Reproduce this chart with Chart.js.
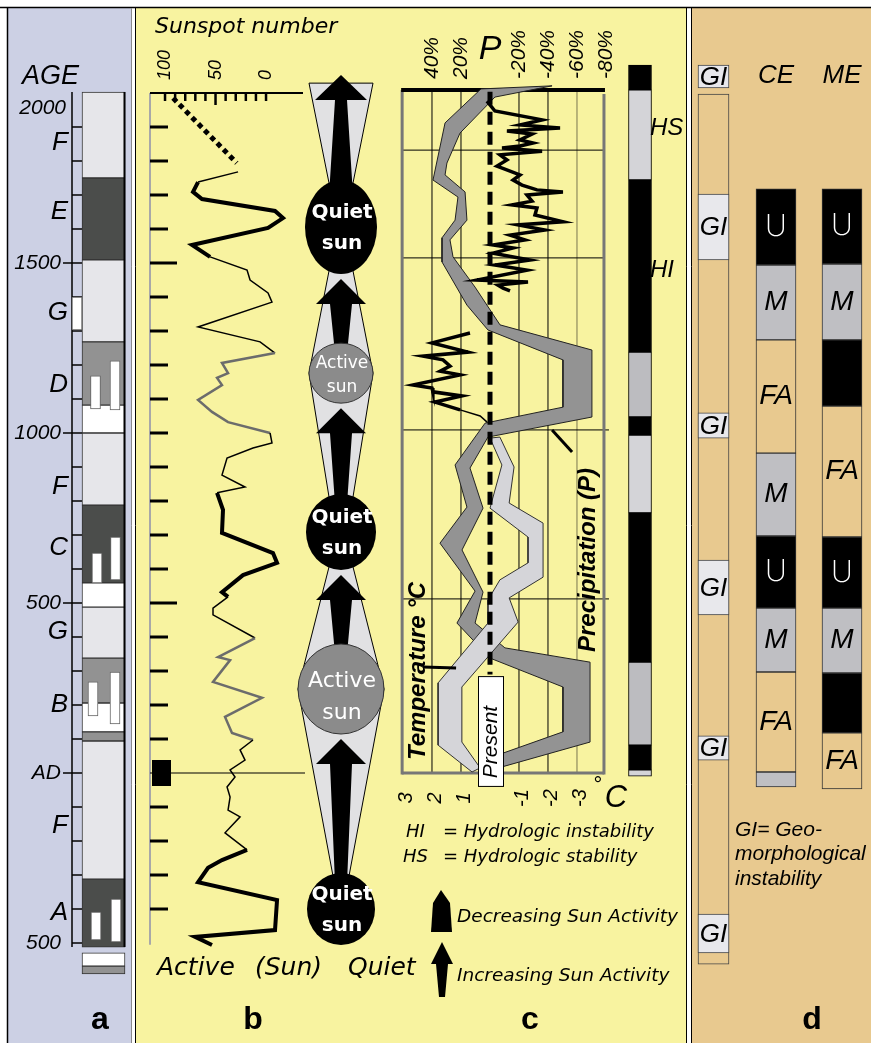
<!DOCTYPE html>
<html>
<head>
<meta charset="utf-8">
<title>Sun activity, climate and geomorphology</title>
<script src="https://cdn.jsdelivr.net/npm/chart.js@4/dist/chart.umd.min.js"></script>
<style>
  html, body { margin: 0; padding: 0; background: #fff; }
  canvas { display: block; }
</style>
</head>
<body>
<canvas id="chart" width="871" height="1043"></canvas>
<script>
// all ages are years AD (negative = BC)

// panel a: age axis and units
const ageLabels = ['2000', '1500', '1000', '500', 'AD', '500'];
const ageLabelYears = [1956, 1500, 1000, 500, 0, -500];
const unitLetters = ['F', 'E', 'G', 'D', 'F', 'C', 'G', 'B', 'F', 'A'];
const unitLetterYears = [1853, 1650, 1353, 1141, 841, 662, 415, 200, -156, -412];
const colATop    = [2003, 1750, 1509, 1268, 1082, 1000, 788, 559, 488, 338, 206, 121, 94, -312, -529, -568];
const colABottom = [1750, 1509, 1268, 1082, 1000, 788, 559, 488, 338, 206, 121, 94, -312, -512, -568, -591];
const colAKind   = ['light', 'dark', 'light', 'mid', 'white', 'light', 'dark', 'white', 'light', 'mid', 'white', 'mid', 'light', 'dark', 'white', 'mid'];
const colAMarkTop    = [1400, 1168, 1212, 647, 694, 268, 297, -409, -371];
const colAMarkBottom = [1303, 1071, 1068, 559, 568, 168, 144, -491, -497];

// panel b: sunspot number
const sunYears = [1768, 1738, 1709, 1688, 1653, 1632, 1603, 1553, 1518, 1479,
  1450, 1412, 1385, 1312, 1268, 1235, 1206, 1176, 1162, 1141,
  1097, 1062, 1032, 1000, 971, 956, 926, 876, 841, 824,
  774, 706, 647, 618, 582, 532, 518, 485, 465, 397,
  341, 332, 268, 221, 165, 118, 97, 68, 38, 9,
  -12, -41, -71, -109, -129, -176, -226, -256, -279, -321,
  -374, -462, -482, -506];
const sunValues = [27.7, 67.3, 72.3, 63.4, -8.9, -16.8, -2, 73.3, 55.4, 18.8,
  15.8, -2, -5.9, 67.3, 5.9, -8.9, 43.6, 37.6, 48.5, 43.6,
  67.3, 53.5, 37.6, -4, -5.9, 12.9, 38.6, 43.6, 20.8, 48.5,
  42.6, 43.6, -6.9, -10.9, 22.8, 43.6, 37.6, 52.5, 52.5, 10.9,
  47.5, 35.6, 52.5, 4, 40.6, 33.7, 12.9, 25.7, 20.8, 35.6,
  30.7, 38.6, 35.6, 37.6, 25.7, 40.6, 18.8, 43.6, 57.4, 67.3,
  -10.9, -8.9, 70.3, 53.5];
const sunTrendYears = [1985, 1794];
const sunTrendValues = [92, 29];
const sunTicks = [100, 50, 0];
const sunPhaseYears = [1606, 1176, 709, 247, -400];
const sunPhaseKinds = ['Quiet', 'Active', 'Quiet', 'Active', 'Quiet'];

// panel c: precipitation band (%), edges west / east
const precipWestYears = [2012, 1912, 1744, 1694, 1626, 1574, 1503, 1376, 1303, 1215, 1076, 1029, 906, 782, 676, 535, 441, 338, 253, 121, 47, 3];
const precipWest      = [6.2, 31.0, 39.3, 22.1, 24.1, 33.1, 33.1, 15.9, 1.4, -50.3, -50.3, 3.4, 24.1, 15.9, 34.5, 10.3, 22.8, 0, -50.3, -50.3, -1.4, 5.5];
const precipEastYears = [2021, 1988, 1882, 1794, 1759, 1709, 1626, 1568, 1518, 1429, 1318, 1244, 1047, 988, 897, 779, 656, 532, 441, 368, 326, 91, 18, 3];
const precipEast      = [-42.8, -3.4, 20.7, 29.7, 31.0, 17.2, 15.9, 27.6, 25.5, 10.3, -6.9, -70.3, -70.3, 1.4, 13.8, 4.8, 19.3, 4.8, 10.3, -10.3, -69.0, -69.0, -8.3, 0];
// temperature band (°C)
const tempWestYears = [985, 906, 779, 694, 618, 568, 509, 441, 265, 82, 3];
const tempWest      = [0, -0.41, 0, -1.31, -1.31, -0.34, 0.07, 0.07, 1.79, 1.79, 0.62];
const tempEastYears = [988, 900, 794, 735, 576, 515, 444, 253, 91, 15];
const tempEast      = [-0.34, -0.83, -0.66, -1.83, -1.83, -0.66, -0.97, 0.97, 0.97, 0.34];
// high resolution records
const precipRecYears = [1976, 1947, 1921, 1906, 1897, 1888, 1879, 1862, 1853, 1844,
  1838, 1829, 1818, 1803, 1785, 1759, 1744, 1729, 1715, 1709,
  1700, 1682, 1671, 1662, 1641, 1621, 1612, 1597, 1582, 1568,
  1553, 1544, 1529, 1509, 1494, 1479, 1450, 1444, 1435, 1426, 1418];
const precipRec = [2.1, -3.4, -35.9, -20.7, -48.3, -11.7, -29.0, -20.7, -29.7, -20.7,
  -8.3, -35.9, -6.9, -11.7, -4.8, -20.7, -15.9, -22.1, -32.4, -50.3,
  -25.5, -29.0, -15.2, -32.4, -31.0, -50.3, -19.3, -37.9, -13.8, -24.1,
  -2.1, -15.9, -2.1, -27.6, -3.4, -25.5, 9.0, -26.2, -5.5, -9.0, -13.8];
const tempRecYears = [1294, 1265, 1238, 1226, 1215, 1197, 1182, 1171, 1141, 1132, 1121, 1109, 1091, 1068, 1050, 1032];
const tempRec      = [0.69, 2.0, 0.76, 2.31, 1.62, 1.38, 1.72, 1.03, 2.66, 2.0, 1.97, 0.97, 1.90, 1.03, 0.34, 0.10];
const precipTicks = [40, 20, -20, -40, -60, -80];
const precipGrid = [40, 20, -20, -40, -60];
const tempTicks = [3, 2, 1, -1, -2, -3];
const gridYears = [1832, 1515, 1009, 512];
const presentYears = [2004, 290];
// hydrologic column
const hydroTop    = [2082, 2009, 1744, 1238, 1047, 994, 765, 326, 82, 9];
const hydroBottom = [2009, 1744, 1238, 1047, 994, 765, 326, 82, 9, -9];
const hydroKind   = ['HI', 'HS', 'HI', 'HS2', 'HI', 'HS', 'HI', 'HS2', 'HI', 'HS'];
const hydroLabels = ['HS', 'HI'];
const hydroLabelYears = [1897, 1479];

// panel d: geomorphological instability and sections CE / ME
const giColumn = [1997, -562];
const giTop    = [2082, 1703, 1059, 626, 109, -415];
const giBottom = [2015, 1509, 985, 465, 38, -529];
const ceTop    = [1718, 1494, 1274, 941, 697, 485, 297, 3];
const ceBottom = [1494, 1274, 941, 697, 485, 297, 3, -41];
const ceUnits  = ['U', 'M', 'FA', 'M', 'U', 'M', 'FA', 'M-'];
const meTop    = [1718, 1497, 1274, 1079, 694, 485, 294, 118];
const meBottom = [1497, 1274, 1079, 694, 485, 294, 118, -47];
const meUnits  = ['U', 'M', 'X', 'FA', 'U', 'M', 'X', 'FA'];

// ---- layout and styles ----
const W = 871, H = 1043;
const L = {
  colA: { x: 103.5, w: 43 }, colAMarkX: [77, 95.5, 115, 97, 115.5, 93, 115, 96, 116],
  hydro: { x: 640, w: 23 }, gi: { x: 713.5, w: 31 }, ce: { x: 776, w: 40 }, me: { x: 842, w: 40 },
  sunX: 341
};
const PANEL = { a: '#ccd0e4', bc: '#f8f3a0', d: '#e8c98f' };
const SHADE = { light: '#e6e6ea', dark: '#4b4d4b', mid: '#929292', white: '#ffffff' };
const HYDRO = { HI: '#000000', HS: '#d4d4d8', HS2: '#bcbcc0' };
const UNIT = { U: '#000000', M: '#bfbfc3', 'M-': '#bfbfc3', FA: PANEL.d, X: '#000000' };
const SUN_RX = [36, 32, 35, 43, 34], SUN_RY = [47, 30, 38, 45, 36];
const sunThickRanges = [[1518, 1740], [518, 824], [-506, -226]];
const sunGrayRanges = [[1000, 1235], [97, 397]];

const xy = (xs, ys) => xs.map((x, i) => ({ x, y: ys[i] }));
const polygon = (wx, wy, ex, ey) => {
  const pts = xy(wx, wy).concat(xy(ex, ey).reverse());
  pts.push(pts[0]);
  return pts;
};
const blocks = (x, top, bottom) => top.map((t, i) => ({ x, y: [t, bottom[i]] }));
const inRanges = (v, rs) => rs.some(([a, b]) => v >= a && v <= b);
const segYear = c => (sunYears[c.p0DataIndex] + sunYears[c.p1DataIndex]) / 2;

const barBase = { type: 'bar', xAxisID: 'xCol', yAxisID: 'y', grouped: false, borderSkipped: false, borderWidth: 1 };
const lineBase = { type: 'scatter', showLine: true, pointRadius: 0, yAxisID: 'y', tension: 0, borderJoinStyle: 'miter' };

function line(ctx, x1, y1, x2, y2) { ctx.beginPath(); ctx.moveTo(x1, y1); ctx.lineTo(x2, y2); ctx.stroke(); }
function text(ctx, s, x, y, font, o = {}) {
  ctx.save();
  ctx.font = font; ctx.fillStyle = o.color || '#000';
  ctx.textAlign = o.align || 'left'; ctx.textBaseline = o.baseline || 'middle';
  ctx.translate(x, y);
  if (o.rot) ctx.rotate(o.rot);
  ctx.fillText(s, 0, 0);
  ctx.restore();
}
function arrow(ctx, cx, tip, base, bottom, head, sTop, sBot) {
  ctx.beginPath();
  ctx.moveTo(cx, tip);
  ctx.lineTo(cx + head, base); ctx.lineTo(cx + sTop, base); ctx.lineTo(cx + sBot, bottom);
  ctx.lineTo(cx - sBot, bottom); ctx.lineTo(cx - sTop, base); ctx.lineTo(cx - head, base);
  ctx.closePath(); ctx.fill();
}
const HV = '"Liberation Sans", Arial, sans-serif';
const DV = '"DejaVu Sans", Verdana, sans-serif';

const deco = {
  id: 'deco',
  beforeDraw(chart) {
    const { ctx } = chart;
    ctx.save();
    ctx.fillStyle = '#fff'; ctx.fillRect(0, 0, W, H);
    ctx.fillStyle = PANEL.a; ctx.fillRect(8, 8, 124, H - 8);
    ctx.fillStyle = PANEL.bc; ctx.fillRect(136, 8, 551, H - 8);
    ctx.fillStyle = PANEL.d; ctx.fillRect(692, 8, W - 692, H - 8);
    ctx.strokeStyle = '#000'; ctx.lineWidth = 1.5;
    line(ctx, 0, 7.5, W, 7.5); line(ctx, 7.5, 7.5, 7.5, H);
    ctx.lineWidth = 1;
    line(ctx, 135.5, 8, 135.5, H); line(ctx, 686.5, 8, 686.5, H); line(ctx, 691.5, 8, 691.5, H);
    ctx.strokeStyle = '#8a8a8a'; line(ctx, 131.5, 8, 131.5, H);
    ctx.restore();
  },
  beforeDatasetsDraw(chart) {
    const { ctx, scales: s } = chart;
    const Y = v => s.y.getPixelForValue(v);
    const XS = v => s.xSun.getPixelForValue(v);
    const XT = v => s.xT.getPixelForValue(v);
    const XP = v => s.xP.getPixelForValue(v);
    ctx.save();
    // panel a age axis
    ctx.strokeStyle = '#000'; ctx.lineWidth = 1.5;
    line(ctx, 72, Y(2003), 72, Y(-512));
    for (let yr = 1900; yr >= -500; yr -= 100) line(ctx, 72, Y(yr), 82, Y(yr));
    [1500, 1000, 500, 0].forEach(yr => line(ctx, 63, Y(yr), 72, Y(yr)));
    // panel b sunspot axes
    ctx.strokeStyle = '#a8a8a8'; ctx.lineWidth = 2;
    line(ctx, 150, Y(2000), 150, Y(-505));
    ctx.strokeStyle = '#000'; ctx.lineWidth = 3;
    for (let yr = 1900; yr >= -400; yr -= 100) {
      if (yr === 0) continue;
      line(ctx, 150, Y(yr), yr === 1500 || yr === 500 ? 177 : 168, Y(yr));
    }
    ctx.lineWidth = 2; line(ctx, 150, Y(2000), 303, Y(2000));
    ctx.lineWidth = 2.5;
    for (let v = 100; v >= 0; v -= 10) line(ctx, XS(v), Y(2000), XS(v), Y(2000) + (v === 50 ? 12 : 8));
    ctx.fillStyle = '#000'; ctx.fillRect(152, Y(0) - 13, 19, 26);
    ctx.lineWidth = 1.2; line(ctx, 150, Y(0), 305, Y(0));

    // panel c frame and grid
    const x0 = XT(3.03), x1 = XT(-3.93), yT = Y(2009), yB = Y(0);
    ctx.strokeStyle = '#000'; ctx.lineWidth = 1;
    precipGrid.forEach(v => {
      ctx.strokeStyle = v === -60 ? '#7a7650' : '#000';
      line(ctx, XP(v), yT, XP(v), yB);
    });
    ctx.strokeStyle = '#000';
    gridYears.forEach(yr => line(ctx, x0, Y(yr), x1 + (yr < 1100 ? 5 : 0), Y(yr)));
    ctx.strokeStyle = '#777'; ctx.lineWidth = 3;
    line(ctx, x0, yT, x0, yB + 1.5); line(ctx, x1, yT + 4, x1, yB + 1.5); line(ctx, x0, yB, x1, yB);
    ctx.strokeStyle = '#000'; ctx.lineWidth = 4; line(ctx, x0 - 1, yT, x1 + 1, yT);

    // sun activity column
    const cx = L.sunX;
    const cys = sunPhaseYears.map(Y);
    const last = cys.length - 1;
    const env = [[Y(2029), 32]];
    sunPhaseKinds.forEach((k, i) => {
      if (k === 'Active') env.push([cys[i], SUN_RX[i]]);
      else {
        env.push([cys[i] - SUN_RY[i] + 3, i === last ? 8 : 12]);
        if (i !== last) env.push([cys[i] + SUN_RY[i] - 3, 12]);
      }
    });
    ctx.beginPath();
    env.forEach(([y, w], i) => (i ? ctx.lineTo(cx - w, y) : ctx.moveTo(cx - w, y)));
    for (let i = env.length - 1; i >= 0; i--) ctx.lineTo(cx + env[i][1], env[i][0]);
    ctx.closePath();
    ctx.fillStyle = '#e1e1e3'; ctx.fill();
    ctx.strokeStyle = '#000'; ctx.lineWidth = 1; ctx.stroke();
    ctx.fillStyle = '#000';
    arrow(ctx, cx, Y(2053), Y(2053) + 25, cys[0], 26, 6, 14);
    for (let i = 0; i < last; i++) {
      const tip = cys[i] + SUN_RY[i] + 5;
      arrow(ctx, cx, tip, tip + 25, cys[i + 1] - SUN_RY[i + 1] + 10, 25, 11, 6);
    }
    sunPhaseKinds.forEach((k, i) => {
      ctx.beginPath();
      ctx.ellipse(cx, cys[i], SUN_RX[i], SUN_RY[i], 0, 0, Math.PI * 2);
      ctx.fillStyle = k === 'Quiet' ? '#000' : '#8b8b8b'; ctx.fill();
      if (k === 'Active') { ctx.strokeStyle = '#333'; ctx.lineWidth = 1; ctx.stroke(); }
      const big = SUN_RX[i] > 40;
      if (k === 'Quiet') {
        text(ctx, 'Quiet', cx + 1, cys[i] - 14, 'bold 20px ' + DV, { color: '#fff', align: 'center' });
        text(ctx, 'sun', cx + 1, cys[i] + 17, 'bold 20px ' + DV, { color: '#fff', align: 'center' });
      } else {
        const f = (big ? 22 : 17) + 'px ' + DV;
        text(ctx, 'Active', cx + 1, cys[i] - (big ? 8 : 10), f, { color: '#fff', align: 'center' });
        text(ctx, 'sun', cx + 1, cys[i] + (big ? 24 : 14), f, { color: '#fff', align: 'center' });
      }
    });
    ctx.restore();
  },
  afterDatasetsDraw(chart) {
    const { ctx, scales: s } = chart;
    const Y = v => s.y.getPixelForValue(v);
    const XS = v => s.xSun.getPixelForValue(v);
    const XT = v => s.xT.getPixelForValue(v);
    const XP = v => s.xP.getPixelForValue(v);
    const up = -Math.PI / 2;
    ctx.save();
    ctx.strokeStyle = '#000'; ctx.lineWidth = 2;
    line(ctx, 124.5, Y(2003), 124.5, Y(-512));

    // panel a text
    text(ctx, 'AGE', 22, 76, 'italic 27px ' + HV);
    ageLabels.forEach((t, i) => text(ctx, t, i === 0 ? 66 : 61, Y(ageLabelYears[i]), 'italic 21px ' + HV, { align: 'right' }));
    unitLetters.forEach((t, i) => text(ctx, t, 68, Y(unitLetterYears[i]), 'italic 26px ' + HV, { align: 'right' }));
    text(ctx, 'a', 100, 1029, 'bold 32px ' + HV, { align: 'center', baseline: 'alphabetic' });

    // panel b text
    text(ctx, 'Sunspot number', 155, 27, 'italic 22px ' + DV);
    sunTicks.forEach(v => text(ctx, String(v), XS(v), 80, 'italic 18px ' + HV, { rot: up }));
    text(ctx, 'Active', 157, 968, 'italic 25px ' + DV);
    text(ctx, '(Sun)', 255, 968, 'italic 25px ' + DV);
    text(ctx, 'Quiet', 348, 968, 'italic 25px ' + DV);
    text(ctx, 'b', 253, 1029, 'bold 32px ' + HV, { align: 'center', baseline: 'alphabetic' });

    // panel c text
    precipTicks.forEach(v => text(ctx, v + '%', XP(v), 79, 'italic 21px ' + HV, { rot: up }));
    text(ctx, 'P', XP(0), 50, 'italic 34px ' + HV, { align: 'center' });
    tempTicks.forEach(v => text(ctx, String(v), XT(v) + 3, 798, 'italic 20px ' + HV, { rot: up, align: 'center' }));
    text(ctx, '°', 598, 786, '22px ' + HV, { align: 'center' });
    text(ctx, 'C', 616, 798, 'italic 31px ' + HV, { align: 'center' });
    hydroLabels.forEach((t, i) => text(ctx, t, 650, Y(hydroLabelYears[i]), 'italic 24px ' + HV));
    text(ctx, 'Temperature °C', 418, 760, 'bold italic 24px ' + HV, { rot: up });
    text(ctx, 'Precipitation (P)', 588, 652, 'bold italic 24px ' + HV, { rot: up });
    // leaders
    ctx.lineWidth = 3;
    line(ctx, XT(2.31), Y(312), XT(1.17), Y(309));
    line(ctx, XP(-42.8), Y(1009), XP(-56.6), Y(944));
    // present box
    ctx.fillStyle = '#fff'; ctx.fillRect(478, Y(285), 25, Y(-38) - Y(285));
    ctx.lineWidth = 1; ctx.strokeRect(478.5, Y(285) + 0.5, 25, Y(-38) - Y(285));
    text(ctx, 'Present', 491, 742, 'italic 21px ' + HV, { rot: up, align: 'center' });
    // legend
    text(ctx, 'HI', 406, 832, 'italic 18px ' + DV);
    text(ctx, '= Hydrologic instability', 443, 832, 'italic 18px ' + DV);
    text(ctx, 'HS', 403, 857, 'italic 18px ' + DV);
    text(ctx, '= Hydrologic stability', 443, 857, 'italic 18px ' + DV);
    ctx.fillStyle = '#000';
    ctx.beginPath();
    ctx.moveTo(441, 890); ctx.lineTo(450, 903); ctx.lineTo(452, 932); ctx.lineTo(431, 932); ctx.lineTo(433, 903);
    ctx.closePath(); ctx.fill();
    arrow(ctx, 442, 942, 964, 997, 11, 6, 3);
    text(ctx, 'Decreasing Sun Activity', 457, 917, 'italic 18.5px ' + DV);
    text(ctx, 'Increasing Sun Activity', 457, 976, 'italic 18.5px ' + DV);
    text(ctx, 'c', 530, 1029, 'bold 32px ' + HV, { align: 'center', baseline: 'alphabetic' });

    // panel d text
    text(ctx, 'CE', L.ce.x, 76, 'italic 26px ' + HV, { align: 'center' });
    text(ctx, 'ME', L.me.x, 76, 'italic 26px ' + HV, { align: 'center' });
    giTop.forEach((t, i) => text(ctx, 'GI', L.gi.x, (Y(t) + Y(giBottom[i])) / 2 + 1, 'italic 26px ' + HV, { align: 'center' }));
    const unitText = (units, top, bottom, x) => units.forEach((u, i) => {
      const y = (Y(top[i]) + Y(bottom[i])) / 2;
      if (u === 'U') text(ctx, 'U', x, y, '200 30px Inter, ' + HV, { color: '#fff', align: 'center' });
      else if (u === 'M' || u === 'FA') text(ctx, u, x, y, 'italic 28px ' + HV, { align: 'center' });
    });
    unitText(ceUnits, ceTop, ceBottom, L.ce.x);
    unitText(meUnits, meTop, meBottom, L.me.x);
    text(ctx, 'GI= Geo-', 735, 830, 'italic 21px ' + HV);
    text(ctx, 'morphological', 735, 854, 'italic 21px ' + HV);
    text(ctx, 'instability', 735, 879, 'italic 21px ' + HV);
    text(ctx, 'd', 812, 1029, 'bold 32px ' + HV, { align: 'center', baseline: 'alphabetic' });
    ctx.restore();
  }
};

const datasets = [
  // lines on top
  { ...lineBase, xAxisID: 'xSun', order: 1, data: xy(sunValues, sunYears), borderColor: '#000', borderWidth: 1.5,
    segment: {
      borderColor: c => (inRanges(segYear(c), sunGrayRanges) ? '#6c6c6c' : '#000'),
      borderWidth: c => (inRanges(segYear(c), sunThickRanges) ? 4 : inRanges(segYear(c), sunGrayRanges) ? 2.5 : 1.5)
    } },
  { ...lineBase, xAxisID: 'xSun', order: 1, data: xy(sunTrendValues, sunTrendYears), borderColor: '#000', borderWidth: 5, borderDash: [5, 4] },
  { ...lineBase, xAxisID: 'xP', order: 2, data: xy(precipRec, precipRecYears), borderColor: '#000', borderWidth: 3.5 },
  { ...lineBase, xAxisID: 'xT', order: 2, data: xy(tempRec, tempRecYears), borderColor: '#000', borderWidth: 3.5,
    segment: { borderWidth: c => (c.p0DataIndex >= 13 ? 1.5 : 3.5) } },
  { ...lineBase, xAxisID: 'xT', order: 3, data: xy([0, 0], presentYears), borderColor: '#000', borderWidth: 5, borderDash: [13, 7] },
  { ...lineBase, xAxisID: 'xT', order: 4, data: polygon(tempWest, tempWestYears, tempEast, tempEastYears),
    fill: 'shape', backgroundColor: '#d5d5d9', borderColor: '#333', borderWidth: 1 },
  { ...lineBase, xAxisID: 'xP', order: 5, data: polygon(precipWest, precipWestYears, precipEast, precipEastYears),
    fill: 'shape', backgroundColor: '#939393', borderColor: '#222', borderWidth: 1 },
  // columns
  { ...barBase, order: 6, data: colAMarkTop.map((t, i) => ({ x: L.colAMarkX[i], y: [t, colAMarkBottom[i]] })),
    barThickness: 10, backgroundColor: '#fff', borderColor: '#666' },
  { ...barBase, order: 7, data: blocks(L.colA.x, colATop, colABottom), barThickness: L.colA.w,
    backgroundColor: colAKind.map(k => SHADE[k]), borderColor: '#333' },
  { ...barBase, order: 7, data: blocks(L.hydro.x, hydroTop, hydroBottom), barThickness: L.hydro.w,
    backgroundColor: hydroKind.map(k => HYDRO[k]), borderColor: '#000' },
  { ...barBase, order: 6, data: blocks(L.gi.x, giTop, giBottom), barThickness: L.gi.w,
    backgroundColor: '#e8e8ec', borderColor: '#444' },
  { ...barBase, order: 7, data: blocks(L.gi.x, [giColumn[0]], [giColumn[1]]), barThickness: L.gi.w,
    backgroundColor: PANEL.d, borderColor: '#444' },
  { ...barBase, order: 7, data: blocks(L.ce.x, ceTop, ceBottom), barThickness: L.ce.w,
    backgroundColor: ceUnits.map(u => UNIT[u]), borderColor: '#333' },
  { ...barBase, order: 7, data: blocks(L.me.x, meTop, meBottom), barThickness: L.me.w,
    backgroundColor: meUnits.map(u => UNIT[u]), borderColor: '#333' }
];

const hidden = { display: false, offset: false };
new Chart(document.getElementById('chart'), {
  type: 'scatter',
  data: { datasets },
  options: {
    responsive: false,
    animation: false,
    devicePixelRatio: 1,
    events: [],
    layout: { padding: 0 },
    plugins: { legend: { display: false }, tooltip: { enabled: false } },
    scales: {
      y:    { ...hidden, type: 'linear', axis: 'y', min: -794.1, max: 2273.5 },
      xCol: { ...hidden, type: 'linear', axis: 'x', min: 0, max: W },
      xSun: { ...hidden, type: 'linear', axis: 'x', min: -599.0, max: 263.4, reverse: true },
      xT:   { ...hidden, type: 'linear', axis: 'x', min: -13.138, max: 16.897, reverse: true },
      xP:   { ...hidden, type: 'linear', axis: 'x', min: -262.76, max: 337.93, reverse: true }
    }
  },
  plugins: [deco]
});
</script>
</body>
</html>
